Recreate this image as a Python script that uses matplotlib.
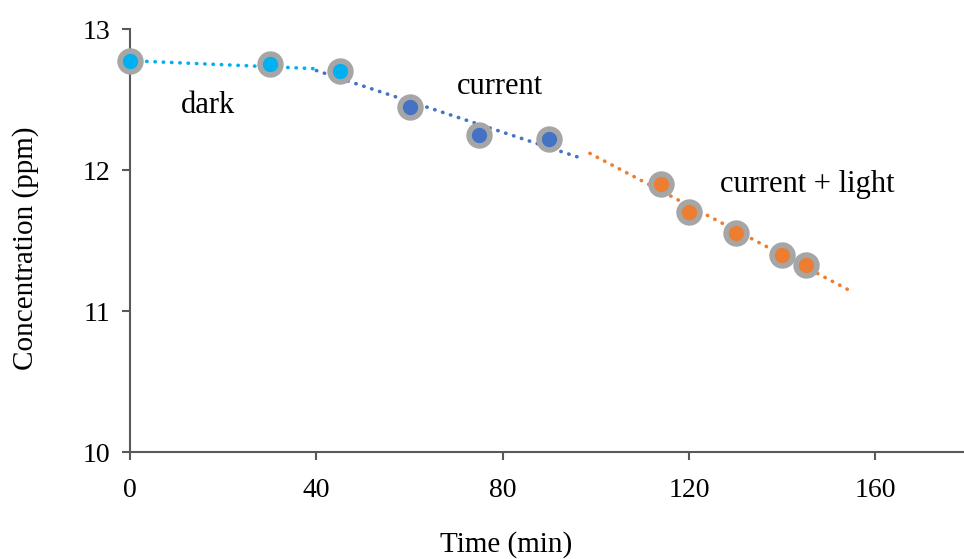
import numpy as np
import matplotlib.pyplot as plt

plt.rcParams['font.family'] = ['Liberation Serif', 'DejaVu Serif']

# readings (time in min, concentration in ppm)
dark_t = [0, 30, 45]
dark_c = [12.77, 12.75, 12.70]
cur_t = [60, 75, 90]
cur_c = [12.45, 12.25, 12.22]
light_t = [114, 120, 130, 140, 145]
light_c = [11.90, 11.70, 11.55, 11.40, 11.33]

CYAN = '#00B0F0'
BLUE = '#4472C4'
ORANGE = '#ED7D31'
GREY = '#A6A6A6'
AXIS = '#595959'

fig = plt.figure(figsize=(9.64, 5.59), dpi=100)
ax = fig.add_axes([0.1349, 0.1914, 0.8651, 0.7566])


def trend(t, c, start, stop, color):
    k, b = np.polyfit(t, c, 1)
    xs = np.array([start, stop])
    ax.plot(xs, k * xs + b, color=color, lw=2.6, ls=(0, (0.1, 2.2)),
            dash_capstyle='round', zorder=2)


trend(dark_t, dark_c, 0, 40, CYAN)
trend(cur_t + dark_t[-1:], cur_c + dark_c[-1:], 40, 96, BLUE)
trend(light_t, light_c, 98.7, 155, ORANGE)

mk = dict(marker='o', ls='none', ms=15, mew=4, mec=GREY, zorder=3,
          clip_on=False)
ax.plot(dark_t, dark_c, mfc=CYAN, **mk)
ax.plot(cur_t, cur_c, mfc=BLUE, **mk)
ax.plot(light_t, light_c, mfc=ORANGE, **mk)

ax.text(16.7, 12.46, 'dark', ha='center', va='center', fontsize=22)
ax.text(79.4, 12.59, 'current', ha='center', va='center', fontsize=22)
ax.text(145.4, 11.90, 'current + light', ha='center', va='center', fontsize=22)

ax.set_xlim(0, 179)
ax.set_ylim(10, 13)
ax.set_xticks([0, 40, 80, 120, 160])
ax.set_yticks([10, 11, 12, 13])
ax.set_xlabel('Time (min)', fontsize=21)
ax.set_ylabel('Concentration (ppm)', fontsize=21)
ax.xaxis.set_label_coords((506 - 130) / 834, -(545 - 452) / 423, transform=ax.transAxes)
ax.yaxis.set_label_coords(-(130 - 25) / 834, (452 - 248) / 423, transform=ax.transAxes)
ax.xaxis.label.set_va('center')
ax.yaxis.label.set_va('center')

for s in ['top', 'right']:
    ax.spines[s].set_visible(False)
for s in ['left', 'bottom']:
    ax.spines[s].set_color(AXIS)
    ax.spines[s].set_linewidth(1.5)
ax.tick_params(direction='out', length=6, width=1.5, color=AXIS,
               labelsize=20, labelcolor='black', pad=8)
ax.tick_params(axis='x', pad=13)

fig.savefig('out.png', dpi=100)
